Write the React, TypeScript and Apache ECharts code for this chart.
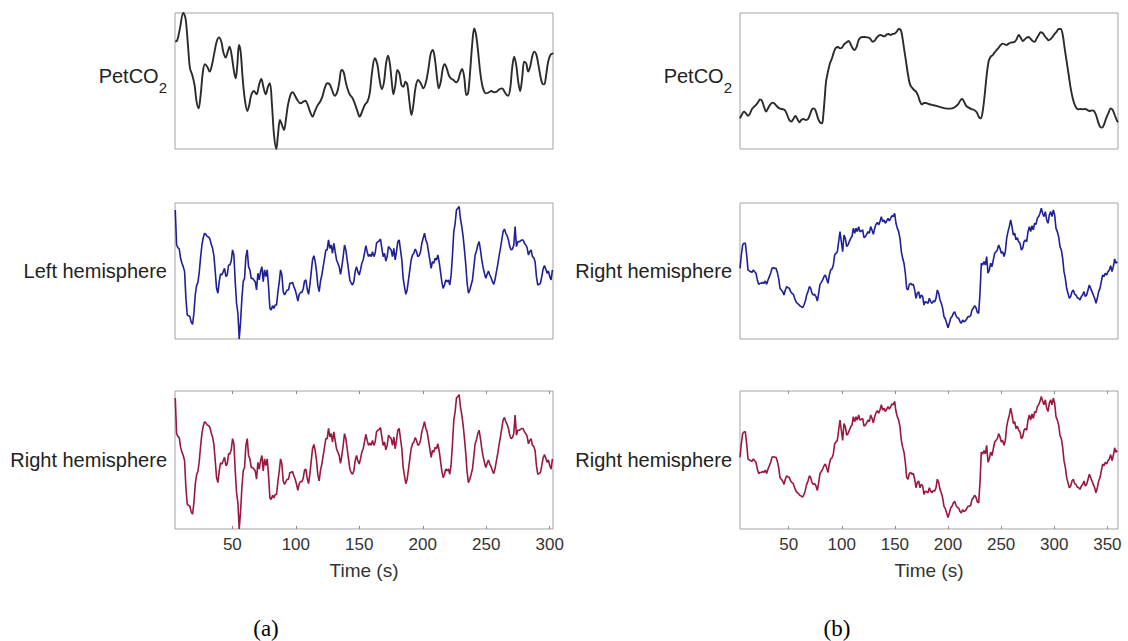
import React, { useEffect, useRef } from "react";
import * as echarts from "echarts";

// End-tidal CO2, breathing at rest (column a) and during the hypercapnia blocks (column b).
// [time in s, normalised PetCO2]
const petco2A: [number, number][] = [
  [5, 78.9], [6.6, 80.1], [8.7, 88.7], [11.3, 100], [13.1, 96.1], [15, 76.5], [16.6, 59.3], [18.4, 54.4],
  [20.2, 47.1], [21.8, 34.8], [23.4, 29.9], [25, 39.7], [26.8, 56.9], [28.4, 62.3], [30.2, 60.5], [32.1, 56.9],
  [33.9, 61.8], [35.7, 70.3], [37.6, 78.9], [39.4, 82.1], [41.3, 78.9], [42.8, 71.6], [44.7, 67.2], [46, 70.3],
  [47.8, 75.2], [49.4, 69.1], [51.3, 56.9], [52.6, 52], [53.9, 61.8], [55.2, 76.5], [56.5, 71.6], [58.1, 52],
  [59.7, 37.3], [61.8, 27.9], [63.3, 32.4], [64.9, 39.7], [67, 42.6], [69.1, 40.2], [71, 47.1], [72.8, 51.5],
  [74.4, 45.8], [76.2, 40.2], [78.1, 45.8], [79.6, 48.3], [81.2, 32.4], [82.8, 10.3], [84.6, 0], [85.9, 10.3],
  [87.5, 21.3], [89.1, 17.6], [90.7, 14], [92.3, 22.5], [93.8, 32.4], [95.9, 40.2], [97.5, 41.7], [99.1, 39.7],
  [101.2, 36], [103.8, 33.6], [105.9, 34.8], [107.5, 35.5], [109.1, 33.1], [111.2, 27.5], [113.3, 23.8], [114.9, 27.5],
  [117, 31.9], [119.1, 34.8], [120.9, 38.5], [122.7, 44.6], [124.8, 48.3], [126.7, 47.5], [128.5, 43.4], [130.6, 39.2],
  [132.7, 42.2], [134.3, 49.5], [135.9, 58.1], [137.5, 56.9], [139, 50.7], [140.6, 44.6], [142.4, 40.2], [144.5, 37.7],
  [146.4, 33.6], [148.5, 27.9], [150.3, 23.8], [152.2, 27.5], [154.3, 32.4], [156.4, 34.8], [158.2, 40.9], [160.1, 56.9],
  [162.2, 66.7], [164.3, 61.8], [165.8, 52], [167.7, 44.1], [169.5, 49.5], [171.1, 63], [172.7, 68.6], [174.2, 61.8],
  [175.3, 52], [176.9, 40.2], [178.4, 47.1], [180, 58.1], [181.6, 55.6], [183.2, 47.1], [184.8, 45.8], [186.3, 49.5],
  [187.9, 47.1], [189.5, 34.8], [191.1, 25], [192.6, 32.4], [194.2, 44.6], [196.3, 50.7], [198.4, 48.3], [200.5, 44.6],
  [202.6, 49.5], [204.5, 59.3], [206.3, 70.3], [207.9, 72.8], [209.5, 66.7], [211, 54.4], [212.6, 44.6], [214.2, 49.5],
  [215.8, 59.3], [217.3, 62.3], [218.9, 59.3], [220.5, 54.4], [222.1, 52], [224.2, 50.7], [226.3, 49], [227.9, 50.7],
  [229.4, 55.6], [231, 58.8], [232.6, 53.2], [234.4, 39.7], [235.7, 40.9], [237.3, 56.9], [238.9, 76.5], [240.5, 88.7],
  [242, 83.8], [243.6, 71.6], [245.2, 56.9], [246.8, 47.1], [248.4, 42.2], [249.9, 40.9], [252, 41.7], [254.1, 42.6],
  [256.2, 41.7], [258.3, 42.2], [260.4, 43.9], [262.5, 44.6], [264.1, 42.6], [265.7, 40.2], [267.3, 39.2], [268.9, 44.6],
  [270.4, 59.3], [272, 67.9], [273.6, 61.8], [275.2, 49.5], [276.7, 42.6], [278.3, 52], [279.9, 64.2], [281.5, 63],
  [283, 56.9], [284.6, 60.5], [286.2, 67.9], [287.8, 71.6], [289.4, 69.6], [290.9, 63], [292.5, 54.4], [294.1, 48.3],
  [295.7, 47.5], [297.2, 54.4], [298.8, 64.2], [300.9, 69.6], [303, 70.3],
];

const petco2B: [number, number][] = [
  [4.2, 22.5], [6.1, 25.5], [8, 27.5], [9.8, 26.2], [11.7, 24.5], [13.6, 26.2], [15.5, 29.4], [17.4, 31.1],
  [19.3, 32.4], [21.1, 34.3], [23, 36.5], [24.9, 35.3], [26.8, 31.1], [28.7, 27.5], [30.6, 29.9], [32.4, 32.4],
  [34.9, 34.1], [36.8, 33.3], [38.7, 31.6], [41.2, 29.9], [43.7, 29.4], [46.2, 28.7], [48.4, 25.5], [50.6, 21.3],
  [52.5, 20.1], [54.4, 22.1], [56.3, 24.3], [58.2, 22.1], [60.1, 19.6], [61.9, 21.3], [63.8, 22.1], [66.3, 21.3],
  [68.2, 22.1], [70.1, 25.5], [72, 29.2], [73.9, 29.9], [75.7, 27.5], [77.6, 22.5], [79.5, 19.6], [81.4, 18.9],
  [82.6, 25], [83.9, 37.3], [85.2, 49.5], [87, 56.9], [88.9, 63], [90.8, 66.7], [92.7, 71.6], [94.6, 74.5],
  [96.5, 75], [98.3, 74], [100.2, 74.5], [102.1, 77], [104.6, 78.4], [106.5, 79.4], [108.4, 77], [110.3, 74],
  [112.1, 72.8], [114, 75.2], [115.9, 80.1], [117.8, 81.9], [119.7, 82.4], [121.6, 82.4], [123.4, 82.1], [125.3, 81.9],
  [127.2, 80.6], [129.1, 78.9], [131, 79.7], [132.9, 81.9], [134.7, 83.3], [136.6, 83.8], [138.5, 83.1], [140.4, 82.8],
  [142.3, 84.3], [144.2, 84.6], [146, 83.8], [147.9, 84.6], [149.8, 84.8], [151.7, 86.3], [153.6, 88.2], [155.5, 87.5],
  [156.7, 83.8], [158.6, 74], [160.5, 64.2], [162.4, 54.4], [164.2, 47.5], [166.1, 45.1], [168, 43.4], [169.9, 42.2],
  [171.8, 39.2], [173.7, 34.8], [175.5, 32.8], [177.4, 33.8], [179.3, 33.8], [181.8, 33.1], [185, 32.4], [188.1, 31.9],
  [191.2, 31.1], [194.4, 30.4], [197.5, 29.9], [200.6, 29.7], [203.8, 29.9], [206.9, 31.1], [209.4, 32.8], [211.9, 36],
  [213.2, 36.8], [215.1, 34.8], [217, 31.9], [219.5, 30.4], [222, 29.4], [224.5, 28.7], [227, 27], [228.9, 23.8],
  [230.8, 22.5], [232.6, 27.5], [234.5, 39.7], [236.4, 54.4], [238.3, 64.7], [240.2, 67.9], [242.1, 69.1], [243.9, 71.1],
  [245.8, 72.8], [247.7, 74.5], [249.6, 76.5], [251.5, 77.5], [253.4, 77], [255.2, 76.5], [257.1, 77.5], [259, 78.2],
  [260.9, 78.4], [262.8, 78.9], [264.7, 80.9], [266.5, 83.8], [268.4, 81.9], [270.3, 79.4], [272.2, 80.6], [274.1, 81.9],
  [276, 82.4], [277.8, 80.9], [279.7, 79.4], [281.6, 78.9], [283.5, 81.4], [285.4, 83.8], [287.2, 85.8], [289.1, 85.3],
  [291, 83.1], [292.9, 81.4], [294.8, 79.9], [296.7, 80.9], [298.5, 82.6], [300.4, 84.6], [302.3, 86.3], [304.2, 88.2],
  [306.1, 88.2], [308, 83.8], [309.8, 74], [311.7, 64.2], [313.6, 54.4], [315.5, 44.6], [317.4, 37.3], [319.3, 32.4],
  [321.1, 29.9], [323, 29.2], [324.9, 29.4], [326.8, 29.2], [329.3, 29.4], [331.8, 28.4], [333.7, 27.9], [335.6, 28.4],
  [337.5, 27.9], [339.3, 25], [341.2, 20.1], [343.1, 16.4], [345, 15.7], [346.9, 18.1], [348.8, 22.5], [351.3, 27],
  [353.1, 29.9], [355, 28.7], [356.9, 25], [358.8, 21.3], [360, 19.6],
];

// Hemispheric signal, column a: one sample every HEMI_A_DT s starting at HEMI_A_T0.
const HEMI_A_T0 = 5;
const HEMI_A_DT = 1.05;
const hemiLeftA: number[] = [
  96.8, 70.5, 68.5, 67.5, 60.5, 56.8, 54.3, 50.5, 30.5, 18, 17.5, 16.8, 12.5, 11, 19.3, 33,
  40, 42.5, 50, 61, 70.5, 76, 79.3, 78.5, 76.8, 76.5, 75, 71, 68, 62.5, 50.5, 38,
  34.3, 43, 48.8, 48, 50.5, 53, 46.8, 48, 55.5, 55.5, 58.5, 66.8, 63, 43, 26.8, 19.3,
  0, 13, 30.5, 43, 45.5, 61.8, 66.8, 54.3, 51.8, 45.5, 45.5, 44.3, 43, 36.8, 49.3, 44.3,
  50.5, 54.3, 43, 51.8, 46.8, 51.8, 39.3, 23, 21.8, 25, 23, 25.5, 25.5, 35, 42.5, 51.8,
  48, 35.5, 33, 35, 36.8, 36.8, 41.8, 41.8, 42.5, 39.3, 36.8, 33, 28.5, 33.5, 35, 35,
  37.5, 43.5, 44.3, 37.5, 33.5, 40.5, 50, 59.3, 62.5, 58, 50.5, 40, 35.5, 43.5, 48, 54.3,
  60.5, 66.8, 66.8, 74.3, 68, 70.5, 64.3, 71.8, 65.5, 59.3, 56.8, 54.3, 48.5, 54.3, 61.8, 70.5,
  66.8, 59.3, 51.8, 44.3, 41.8, 40.5, 43, 50.5, 54.3, 50.5, 48, 51.8, 56.8, 59.3, 64.3, 70,
  65.5, 61.8, 63.5, 61.8, 65.5, 61.8, 64.3, 71.8, 73, 73.5, 75, 68, 61.8, 64.3, 58.5, 61.8,
  69.3, 68, 66.8, 61.8, 68, 59.3, 65.5, 73, 74.3, 66.8, 59.3, 45.5, 39.3, 33.5, 36.8, 44.3,
  51.8, 59.3, 63, 64.3, 67.5, 65.5, 61.8, 62.5, 65.5, 71.8, 75.5, 79.3, 74.3, 71.8, 65.5, 59.3,
  53, 58, 56.8, 60.5, 59.3, 63, 58, 50.5, 43, 38, 40.5, 44.3, 43, 44.3, 40.5, 48,
  63, 80.5, 86.8, 96.8, 98, 99.3, 90, 84.3, 76.8, 66.8, 55.5, 41.8, 34.3, 36.8, 40.5, 44.3,
  53.5, 63, 66, 70.5, 73, 66.8, 59.3, 53.5, 49.3, 45.5, 48.5, 51, 48, 46, 43, 41,
  45, 50.5, 56, 62.5, 68, 74.3, 80.5, 82.5, 79.3, 77.5, 74.3, 69.3, 66.8, 67.5, 70.5, 84.3,
  69.3, 73, 73, 73.5, 74.3, 74.3, 71.8, 70.5, 68.5, 63, 65.5, 66.8, 61.8, 61, 58, 46.8,
  40.5, 41, 41.8, 46.8, 52.5, 55, 52.5, 49.3, 51, 46.8, 44.3, 51.8,
];
// The right-hemisphere trace of column a follows the same course.
const hemiRightA: number[] = hemiLeftA;

// Hemispheric signal, column b.
const HEMI_B_T0 = 4.2;
const HEMI_B_DT = 1.255;
const hemiRightB: number[] = [
  53, 63, 70.5, 71.8, 71.8, 63, 51.8, 51, 50.5, 50, 51.8, 50.5, 49.3, 44.3, 41, 41.8,
  41.8, 42.5, 41.8, 43.5, 41, 44.3, 46.8, 49.3, 53, 53.5, 53, 53, 50, 45.5, 38, 36.8,
  35.5, 33, 36.8, 39.3, 38.5, 38, 35.5, 34.3, 33.5, 30.5, 28, 26.8, 26, 24.8, 24.3, 23.5,
  25.5, 28.5, 33, 35.5, 39.3, 38, 34.3, 33, 33.5, 31.8, 28.5, 34.3, 41, 42.5, 44.3, 46.8,
  48, 45, 41.8, 48, 51.8, 52.5, 55.5, 63, 64.3, 65.5, 73, 80.5, 73, 65.5, 78, 75.5,
  69.3, 70.5, 73, 75.5, 76.8, 83, 79.3, 83, 80.5, 84.3, 80.5, 81, 81.8, 76, 76.8, 78.5,
  80.5, 79.3, 84.3, 81.8, 78.5, 83, 86, 87.5, 85.5, 88, 91.8, 88, 89.3, 86.8, 88.5, 90.5,
  88.5, 90.5, 92.5, 91.8, 94.3, 86.8, 83, 80.5, 75.5, 65.5, 60.5, 56.8, 49.3, 38, 36.8, 41,
  41.8, 40.5, 41, 36.8, 30.5, 34.3, 35.5, 30.5, 33, 31.8, 25.5, 28, 27.5, 26.8, 30.5, 28,
  26.8, 28.5, 28, 30.5, 36.8, 34.3, 29.3, 26.8, 23, 16.8, 15, 11.8, 8.5, 11.8, 15.5, 16.8,
  19.3, 20.5, 17.5, 16, 15.5, 13, 11.8, 14.3, 13, 13.5, 15, 16.8, 16.8, 17.5, 21.8, 23,
  25, 23.5, 20, 19.3, 34.3, 56.8, 55.5, 58, 55.5, 61.8, 49.3, 51.8, 56.8, 54.3, 59.3, 64.3,
  65.5, 66.8, 70.5, 68, 64.3, 65.5, 61.8, 65.5, 75.5, 80.5, 84.3, 89.3, 84.3, 78, 79.3, 74.3,
  76, 73, 71.8, 66.8, 68, 73, 74.3, 73, 80.5, 84.3, 80.5, 85, 81.8, 86.8, 86, 90.5,
  91.8, 94.3, 98, 94.3, 91.8, 95.5, 89.3, 86.8, 93, 95.5, 91.8, 96.8, 93, 83, 80.5, 76.8,
  69.3, 66.8, 60.5, 50.5, 45.5, 38, 34.3, 30.5, 31.8, 35.5, 36.8, 33.5, 33, 31, 30.5, 29.3,
  31.8, 33, 35.5, 31.8, 33, 36.8, 40.5, 38, 35.5, 33, 30.5, 26.8, 30.5, 35.5, 38, 43,
  48, 46.8, 49.3, 48, 50.5, 51.8, 55, 50.5, 54.3, 60, 56.8, 58,
];
const hemiRightB2: number[] = hemiRightB;

const TICKS_A = [50, 100, 150, 200, 250, 300];
const TICKS_B = [50, 100, 150, 200, 250, 300, 350];
const ROW_LABELS_A = ["PetCO2", "Left hemisphere", "Right hemisphere"];
const ROW_LABELS_B = ["PetCO2", "Right hemisphere", "Right hemisphere"];
const PANEL_TAGS = ["(a)", "(b)"];
const X_NAME = "Time (s)";

const SANS = "'Liberation Sans', Arial, Helvetica, sans-serif";
const SERIF = "'Liberation Serif', 'Times New Roman', serif";
const LINE_COLORS = ["#2b2b2b", "#1f1f98", "#99183c"];
const BOX = "#a3a3a3";

const toSeries = (values: number[], t0: number, dt: number): [number, number][] =>
  values.map((v, i) => [t0 + i * dt, v]);

const columns = [
  {
    left: 175, width: 378, min: 4.8, max: 302.6, ticks: TICKS_A, labels: ROW_LABELS_A,
    traces: [petco2A, toSeries(hemiLeftA, HEMI_A_T0, HEMI_A_DT), toSeries(hemiRightA, HEMI_A_T0, HEMI_A_DT)],
  },
  {
    left: 740, width: 378, min: 4.2, max: 360, ticks: TICKS_B, labels: ROW_LABELS_B,
    traces: [petco2B, toSeries(hemiRightB, HEMI_B_T0, HEMI_B_DT), toSeries(hemiRightB2, HEMI_B_T0, HEMI_B_DT)],
  },
];
const rows = [
  { top: 13, height: 136, yMax: 100 },
  { top: 203, height: 136, yMax: 102 },
  { top: 391, height: 138, yMax: 102 },
];

function buildOption() {
  const grid: any[] = [];
  const xAxis: any[] = [];
  const yAxis: any[] = [];
  const series: any[] = [];
  const graphic: any[] = [];

  columns.forEach((col, c) => {
    rows.forEach((row, r) => {
      const g = grid.length;
      const isBottom = r === rows.length - 1;
      grid.push({
        left: col.left, top: row.top, width: col.width, height: row.height,
        show: true, borderColor: BOX, borderWidth: 1, backgroundColor: "transparent",
      });
      const xIndex = xAxis.length;
      xAxis.push({
        type: "value", gridIndex: g, position: "bottom", min: col.min, max: col.max,
        axisLine: { show: false },
        splitLine: { show: false },
        axisTick: {
          show: isBottom, inside: true, length: 3, customValues: col.ticks,
          lineStyle: { color: "#8a8a8a", width: 1 },
        },
        axisLabel: {
          show: isBottom, customValues: col.ticks, margin: 7,
          color: "#333", fontSize: 17, fontFamily: SANS,
        },
        name: isBottom ? X_NAME : "",
        nameLocation: "middle", nameGap: 32,
        nameTextStyle: { color: "#333", fontSize: 19, fontFamily: SANS },
      });
      if (isBottom) {
        // mirrored ticks along the top edge of the box
        xAxis.push({
          type: "value", gridIndex: g, position: "top", min: col.min, max: col.max,
          axisLine: { show: false }, splitLine: { show: false },
          axisTick: { show: true, inside: true, length: 3, customValues: col.ticks, lineStyle: { color: "#8a8a8a", width: 1 } },
          axisLabel: { show: false },
        });
      }
      yAxis.push({
        type: "value", gridIndex: g, min: 0, max: row.yMax,
        axisLine: { show: false }, axisTick: { show: false }, axisLabel: { show: false }, splitLine: { show: false },
      });
      series.push({
        type: "line", xAxisIndex: xIndex, yAxisIndex: g,
        data: col.traces[r], showSymbol: false, symbol: "none",
        smooth: r === 0 ? 0.35 : false,
        lineStyle: { color: LINE_COLORS[r], width: r === 0 ? 1.9 : 1.6 },
        clip: true,
      });

      const cy = row.top + row.height / 2;
      const label = col.labels[r];
      if (label === "PetCO2") {
        graphic.push({
          type: "text", x: col.left - 8, y: cy - 5,
          style: {
            text: "{m|PetCO}{s|2}", align: "right", verticalAlign: "middle",
            rich: {
              m: { fontSize: 20, fontFamily: SANS, fill: "#222" },
              s: { fontSize: 15, fontFamily: SANS, fill: "#222", padding: [22, 0, 0, 0] },
            },
          },
        });
      } else {
        graphic.push({
          type: "text", x: col.left - 8, y: cy,
          style: { text: label, align: "right", verticalAlign: "middle", fontSize: 20, fontFamily: SANS, fill: "#222" },
        });
      }
    });
    graphic.push({
      type: "text", x: col.left + col.width / 2 - 98 + (c === 1 ? 6 : 0), y: 628,
      style: { text: PANEL_TAGS[c], align: "center", verticalAlign: "middle", fontSize: 23, fontFamily: SERIF, fill: "#000" },
    });
  });

  return { animation: false, backgroundColor: "#fff", grid, xAxis, yAxis, series, graphic };
}

export default function App() {
  const ref = useRef<HTMLDivElement>(null);
  useEffect(() => {
    const chart = echarts.init(ref.current!, undefined, { renderer: "svg" });
    chart.setOption(buildOption());
    return () => chart.dispose();
  }, []);
  return (
    <div
      ref={ref}
      style={{ position: "absolute", left: 0, top: 0, width: 1128, height: 641, background: "#fff" }}
    />
  );
}
